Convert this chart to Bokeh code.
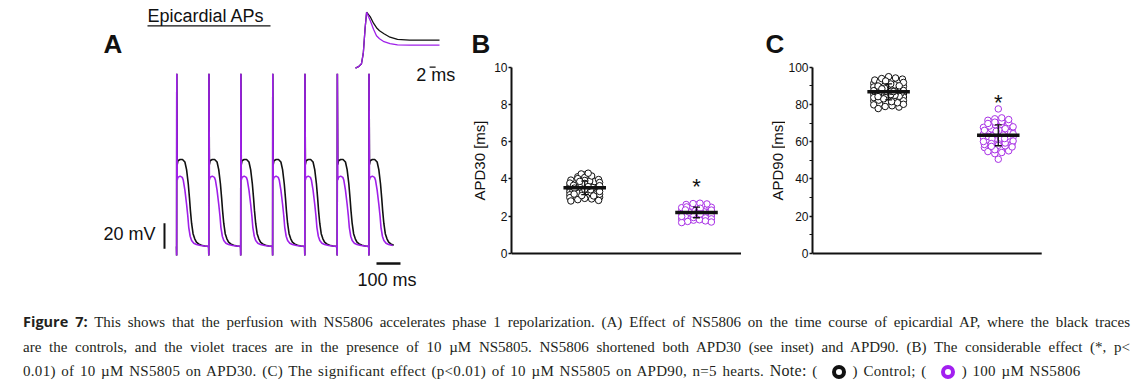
import math
import numpy as np
from bokeh.plotting import figure
from bokeh.models import Range1d, Label, Div, FixedTicker
from bokeh.layouts import row, column
from bokeh.embed import file_html
from bokeh.resources import INLINE
from bokeh.core.properties import value

# ---------------- data ----------------
# Panel A: one beat (ms after stimulus, mV above rest)
beat_onsets_ms = [0, 134, 267, 400, 534, 669, 801]
record_end_ms = 916
ctrl_t = [0, 0.6, 1.2, 3, 6, 15, 25, 35, 42, 49, 54, 58, 63, 69, 76, 83, 92, 104, 118, 134]
ctrl_v = [0, -7, 135, 64, 67, 68, 68, 66, 60, 49, 38, 28, 18, 10, 6, 3.4, 2, 1, 0.4, 0]
ns_t = [0, 0.6, 1.2, 3, 6, 15, 24, 28, 35, 42, 47, 51, 57, 63, 72, 83, 100, 134]
ns_v = [0, -7, 135, 52, 54, 55, 54, 52, 44, 33, 24, 15, 8, 4.7, 2.6, 1.6, 0.8, 0]

# Inset: upstroke / phase 1 (ms, mV)
inset_t = [0, 1, 2, 2.6, 3.2, 3.7, 5, 6, 7, 8, 9.5, 11.5, 14, 18, 28]
inset_ctrl_v = [-80, -77, -71, -50, 0, 32, 22, 10, 1, -5, -11, -18, -22.5, -24, -24]
inset_ns_v = [-80, -77, -71, -50, 0, 32, 14, -2, -15, -21, -27, -31, -33.5, -34, -34]

# Panel B: APD30 (ms)
apd30_ctrl = [3.52, 3.61, 3.44, 3.38, 3.71, 3.29, 3.55, 3.48, 3.83, 3.12,
              3.67, 3.35, 3.94, 3.21, 3.58, 3.46, 4.05, 3.02, 3.74, 3.31,
              3.63, 3.49, 4.12, 2.93, 3.57, 3.40, 3.86, 3.18, 3.69, 3.26,
              4.21, 2.85, 3.53, 3.43, 3.97, 3.09, 3.78, 3.34, 4.27, 2.96,
              3.60, 3.47, 3.89, 3.15, 3.66, 3.37, 4.08, 3.05, 3.81, 3.23,
              3.54, 3.51, 4.16, 2.89, 3.72, 3.28, 3.92, 3.11, 3.64, 3.42,
              4.02, 3.00, 3.76, 3.33, 4.31, 2.82, 3.59, 3.45, 3.87, 3.19]
apd30_ns = [2.21, 2.35, 2.08, 2.44, 1.97, 2.29, 2.13, 2.52, 1.88, 2.39,
            2.17, 2.61, 1.79, 2.26, 2.05, 2.48, 1.93, 2.33, 2.11, 2.66,
            1.72, 2.24, 2.01, 2.57, 1.84, 2.41, 2.15, 2.70, 1.66, 2.31,
            2.09, 2.46, 1.91, 2.37, 2.19, 2.55, 1.81, 2.28, 2.03, 2.63,
            1.75, 2.22, 1.99, 2.50, 1.86, 2.43, 2.12, 2.68, 1.69, 2.34]

# Panel C: APD90 (ms)
apd90_ctrl = [87.2, 85.6, 89.1, 83.4, 90.8, 86.3, 88.5, 81.9, 92.4, 84.7,
              87.9, 79.8, 93.6, 85.1, 89.7, 82.6, 91.3, 86.8, 88.2, 80.5,
              94.5, 84.0, 87.5, 83.1, 90.2, 86.0, 88.9, 78.6, 92.9, 85.4,
              89.4, 81.2, 91.8, 87.0, 86.5, 82.0, 93.1, 84.4, 88.0, 79.3,
              94.9, 85.8, 90.5, 83.7, 87.7, 80.9, 92.1, 86.6, 89.0, 77.8,
              93.9, 84.9, 88.7, 82.3, 91.0, 86.1, 87.4, 81.5, 94.2, 85.3,
              89.9, 83.0, 90.0, 87.1, 88.4, 80.1, 92.6, 84.2, 86.9, 78.9]
apd90_ns = [63.8, 61.2, 66.4, 58.9, 68.7, 62.5, 65.1, 56.3, 70.2, 60.4,
            64.6, 55.1, 71.5, 59.7, 67.3, 57.8, 69.4, 63.0, 65.8, 54.2,
            72.3, 61.9, 64.1, 58.1, 68.0, 62.2, 66.9, 53.6, 70.8, 60.9,
            63.4, 56.9, 69.1, 64.9, 62.8, 55.7, 71.9, 59.3, 67.7, 57.2,
            72.8, 61.5, 65.4, 58.5, 68.4, 63.6, 66.1, 54.7, 70.5, 60.1,
            77.6, 50.6, 64.3, 62.0, 67.0, 59.0, 65.6, 61.7, 69.8, 57.5]

group_pos = [1, 2]
apd30_ticks = [0, 2, 4, 6, 8, 10]
apd90_ticks = [0, 20, 40, 60, 80, 100]
apd90_minor = [10, 30, 50, 70, 90]

# ---------------- style ----------------
BLACK = "#111111"
VIOLET = "#9f1fe9"
VIOLET_PT = "#a932e6"
SANS = "Liberation Sans"
H = 300


def beat_trace(t_wave, v_wave):
    xs, ys = [], []
    for i, onset in enumerate(beat_onsets_ms):
        stop = beat_onsets_ms[i + 1] if i + 1 < len(beat_onsets_ms) else record_end_ms
        for t, v in zip(t_wave, v_wave):
            if onset + t < stop:
                xs.append(onset + t)
                ys.append(v)
    return xs, ys


def lbl(p, x, y, text, size, bold=False, angle=0.0, align="left", baseline="alphabetic"):
    p.add_layout(Label(x=x, y=y, x_units="screen", y_units="screen", text=text,
                       text_font=SANS, text_font_size=size, text_color=BLACK,
                       text_font_style="bold" if bold else "normal",
                       angle=angle, text_align=align, text_baseline=baseline))


# ---------------- Panel A (also carries the "B" letter and B's axis title) ----------------
pA = figure(width=491, height=H, x_range=Range1d(-733.3, 1312.5), y_range=Range1d(-42.2, 192.2),
            output_backend="svg", toolbar_location=None, title=None,
            x_axis_location=None, y_axis_location=None, min_border=0,
            outline_line_color=None)
pA.grid.visible = False
pA.extra_x_ranges = {"ix": Range1d(-118.33, 45.33)}
pA.extra_y_ranges = {"iy": Range1d(-544.6, 55.4)}

cx, cy = beat_trace(ctrl_t, ctrl_v)
nx, ny = beat_trace(ns_t, ns_v)
pA.line(cx, cy, line_color=BLACK, line_width=1.6)
pA.line(nx, ny, line_color=VIOLET, line_width=1.6)

pA.line(inset_t, inset_ctrl_v, line_color=BLACK, line_width=1.3, x_range_name="ix", y_range_name="iy")
pA.line(inset_t, inset_ns_v, line_color=VIOLET, line_width=1.3, x_range_name="ix", y_range_name="iy")

# scale bars: 100 ms, 20 mV, inset 2 ms
pA.segment(x0=[833.3], y0=[-13.3], x1=[933.3], y1=[-13.3], line_color=BLACK, line_width=2.5)
pA.segment(x0=[-50], y0=[-1.8], x1=[-50], y1=[18.2], line_color=BLACK, line_width=2)
pA.segment(x0=[24.7], y0=[-78], x1=[26.7], y1=[-78], line_color=BLACK, line_width=1.3,
           x_range_name="ix", y_range_name="iy")
# underline of the title
pA.segment(x0=[-120.8], y0=[172.4], x1=[391.7], y1=[172.4], line_color=BLACK, line_width=1.3)

lbl(pA, 103, 256.8, "A", "26px", bold=True)
lbl(pA, 147, 284.3, "Epicardial APs", "18px")
lbl(pA, 103, 67, "20 mV", "18px")
lbl(pA, 357, 20.3, "100 ms", "18px")
lbl(pA, 415.7, 225.3, "2 ms", "18px")
lbl(pA, 471, 256.8, "B", "26px", bold=True)
lbl(pA, 479, 140, "APD30 [ms]", "15px", angle=math.pi / 2, align="center", baseline="middle")


# ---------------- Panels B, C ----------------
def swarm(vals, row_h, px_per_unit, width_px=30, max_step_px=7):
    vals = np.asarray(vals, dtype=float)
    rows = np.floor((vals - vals.min()) / row_h).astype(int)
    off = np.zeros(len(vals))
    for r in np.unique(rows):
        idx = np.where(rows == r)[0]
        idx = idx[np.argsort(vals[idx])]
        n = len(idx)
        if n == 1:
            continue
        step = min(width_px / (n - 1), max_step_px)
        order = np.arange(n)
        order = np.concatenate([order[::2], order[1::2][::-1]])
        off[idx[order]] = (np.arange(n) - (n - 1) / 2) * step
    return off / px_per_unit


def panel(width, border_left, xr, axis_end, ppu, yr, bounds, ticks, minor, groups, row_h, star_y):
    p = figure(width=width, height=H, x_range=Range1d(*xr), y_range=Range1d(*yr),
               output_backend="svg", toolbar_location=None, title=None,
               x_axis_location=None,
               min_border_left=border_left, min_border_right=0, min_border_top=0,
               min_border_bottom=0, outline_line_color=None)
    p.grid.visible = False
    ya = p.yaxis[0]
    ya.bounds = bounds
    ya.ticker = FixedTicker(ticks=ticks, minor_ticks=minor)
    ya.axis_line_width = 2
    ya.axis_line_color = BLACK
    ya.major_tick_line_width = 1.5
    ya.major_tick_line_color = BLACK
    ya.major_tick_out = 3
    ya.major_tick_in = 0
    ya.minor_tick_out = 3
    ya.minor_tick_in = 0
    ya.minor_tick_line_width = 1.2
    ya.minor_tick_line_color = BLACK
    ya.major_label_text_font = SANS
    ya.major_label_text_font_size = "12px"
    ya.major_label_text_color = BLACK
    ya.major_label_standoff = 1
    # x axis line at y = 0, ending where the reference's axis ends
    p.segment(x0=[xr[0]], y0=[bounds[0]], x1=[axis_end], y1=[bounds[0]], line_color=BLACK, line_width=2)

    hw = 21.5 / ppu
    cw = 3.5 / ppu
    for pos, vals, col in groups:
        off = swarm(vals, row_h, ppu)
        p.scatter(pos + off, vals, size=6.5, marker="circle", fill_color="white",
                  line_color=col, line_width=1)
    for pos, vals, col in groups:
        m = float(np.mean(vals))
        s = float(np.std(vals, ddof=1))
        p.segment(x0=[pos - hw], y0=[m], x1=[pos + hw], y1=[m], line_color=BLACK, line_width=3.5)
        p.segment(x0=[pos], y0=[m - s], x1=[pos], y1=[m + s], line_color=BLACK, line_width=1.3)
        p.segment(x0=[pos - cw, pos - cw], y0=[m - s, m + s], x1=[pos + cw, pos + cw],
                  y1=[m - s, m + s], line_color=BLACK, line_width=1.3)
    p.text(x=[group_pos[1]], y=[star_y], text=["*"], text_align="center",
           text_baseline="alphabetic", text_font=value(SANS), text_font_size="22px",
           text_color=BLACK)
    return p


pB = panel(294, 17, (0.345, 2.796), 2.398, 113.0, (-2.523, 13.580), (0, 10), apd30_ticks, [],
           [(group_pos[0], apd30_ctrl, BLACK), (group_pos[1], apd30_ns, VIOLET_PT)],
           0.16, 3.58)
# letter C and C's axis title live in the right part of panel B's frame
lbl(pB, 254, 256.8, "C", "26px", bold=True)
lbl(pB, 266, 140, "APD90 [ms]", "15px", angle=math.pi / 2, align="center", baseline="middle")

pC = panel(357, 23, (0.306, 3.315), 2.396, 111.0, (-25.23, 135.80), (0, 100), apd90_ticks, apd90_minor,
           [(group_pos[0], apd90_ctrl, BLACK), (group_pos[1], apd90_ns, VIOLET_PT)],
           1.9, 81.0)

# ---------------- caption ----------------
ring = ('<span style="display:inline-block;box-sizing:border-box;width:14px;height:14px;'
        'border:4px solid {c};border-radius:50%;vertical-align:-3px;margin:0 7px 0 14px;"></span>')
line_css = 'height:24.5px;line-height:24.5px;white-space:nowrap;'
caption = (
    '<div style="padding-top:10px;margin-left:23px;width:1107px;font-family:\'Liberation Serif\';'
    'font-size:15px;color:#231f20;">'
    '<div style="' + line_css + 'text-align:justify;text-align-last:justify;">'
    '<span style="font-family:\'Open Sans\';font-weight:bold;font-size:14.5px;">Figure 7:</span> '
    'This shows that the perfusion with NS5806 accelerates phase 1 repolarization. (A) Effect of NS5806 '
    'on the time course of epicardial AP, where the black traces</div>'
    '<div style="' + line_css + 'text-align:justify;text-align-last:justify;">'
    'are the controls, and the violet traces are in the presence of 10 \u00b5M NS5805. NS5806 shortened '
    'both APD30 (see inset) and APD90. (B) The considerable effect (*, p&lt;</div>'
    '<div style="' + line_css + 'letter-spacing:0.3px;word-spacing:1.5px;">'
    '0.01) of 10 \u00b5M NS5805 on APD30. (C) The significant effect (p&lt;0.01) of 10 \u00b5M NS5805 on '
    'APD90, n=5 hearts. <span style="font-size:16px;">Note:</span> ('
    + ring.format(c="#111111") + ') Control; (' + ring.format(c="#a21ff0") +
    ') 100 \u00b5M NS5806</div></div>'
)
cap = Div(text=caption, width=1134, height=88, margin=(0, 0, 0, 0))

layout = column(row(pA, pB, pC), cap)
open("out.html", "w").write(file_html(layout, INLINE))
